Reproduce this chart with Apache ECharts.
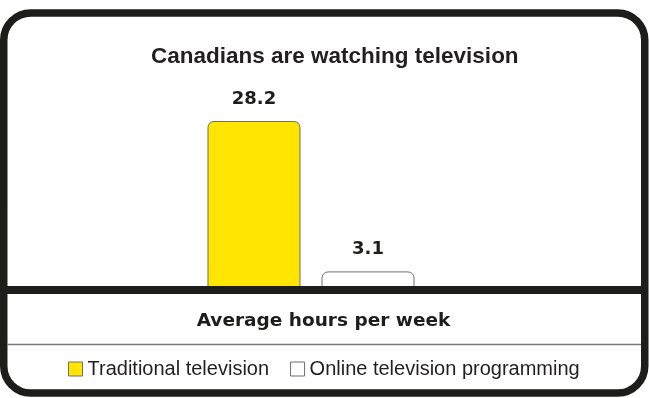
<!DOCTYPE html>
<html>
<head>
<meta charset="utf-8">
<script src="https://cdn.jsdelivr.net/npm/echarts@6/dist/echarts.min.js"></script>
<style>
  html, body { margin: 0; padding: 0; background: #ffffff; }
  #chart { width: 649px; height: 398px; }
</style>
</head>
<body>
<div id="chart"></div>
<script>
// Weekly viewing time of Canadians, in hours
const chartTitle = 'Canadians are watching television';
const categories = ['Average hours per week'];
const seriesNames = ['Traditional television', 'Online television programming'];
const traditionalHours = [28.2];
const onlineHours = [3.1];

const INK = '#1d1d1b';
const BAR_EDGE = '#6e6e6e';
const heavyFont = 'DejaVu Sans';
const plainFont = 'Liberation Sans';

const chart = echarts.init(document.getElementById('chart'), null, { renderer: 'canvas' });

const valueLabel = {
  show: true,
  position: 'top',
  distance: 13,
  fontFamily: heavyFont,
  fontWeight: 'bold',
  fontSize: 18,
  color: INK
};

chart.setOption({
  animation: false,
  backgroundColor: '#ffffff',
  title: {
    text: chartTitle,
    left: 151,
    top: 45,
    padding: 0,
    textStyle: {
      fontFamily: plainFont,
      fontWeight: 'bold',
      fontSize: 22.5,
      color: '#231f20'
    }
  },
  legend: {
    data: seriesNames,
    left: 68,
    top: 359,
    padding: 0,
    icon: 'rect',
    itemWidth: 14,
    itemHeight: 14,
    itemGap: 21,
    selectedMode: false,
    itemStyle: { borderColor: BAR_EDGE, borderWidth: 1 },
    textStyle: { fontFamily: plainFont, fontSize: 20, color: '#231f20' }
  },
  grid: { left: 100, right: 127, top: 110.2, bottom: 108, containLabel: false },
  xAxis: {
    type: 'category',
    data: categories,
    axisLine: { show: false },
    axisTick: { show: false },
    axisLabel: {
      margin: 22,
      padding: [0, 0, 0, 25],
      fontFamily: heavyFont,
      fontWeight: 'bold',
      fontSize: 18.5,
      color: INK
    }
  },
  yAxis: {
    type: 'value',
    min: 0,
    max: 30,
    show: false,
    splitLine: { show: false }
  },
  series: [
    {
      name: seriesNames[0],
      type: 'bar',
      data: traditionalHours,
      barWidth: 93,
      barGap: '22.6%',
      itemStyle: {
        color: '#ffe500',
        borderColor: BAR_EDGE,
        borderWidth: 1,
        borderRadius: [6, 6, 0, 0]
      },
      label: valueLabel
    },
    {
      name: seriesNames[1],
      type: 'bar',
      data: onlineHours,
      barWidth: 93,
      itemStyle: {
        color: '#ffffff',
        borderColor: BAR_EDGE,
        borderWidth: 1,
        borderRadius: [6, 6, 0, 0]
      },
      label: valueLabel
    }
  ],
  graphic: [
    {
      // rounded frame around the whole panel
      type: 'rect',
      z: 100,
      shape: { x: 3.75, y: 13, width: 641, height: 380, r: 27 },
      style: { fill: 'none', stroke: INK, lineWidth: 7.5 }
    },
    {
      // heavy baseline under the bars
      type: 'line',
      z: 100,
      shape: { x1: 7, y1: 290, x2: 641, y2: 290 },
      style: { stroke: INK, lineWidth: 8 }
    },
    {
      // thin rule between the unit label and the legend
      type: 'line',
      z: 100,
      shape: { x1: 7, y1: 344.5, x2: 641, y2: 344.5 },
      style: { stroke: '#7a7a7a', lineWidth: 1.5 }
    }
  ]
});
</script>
</body>
</html>
